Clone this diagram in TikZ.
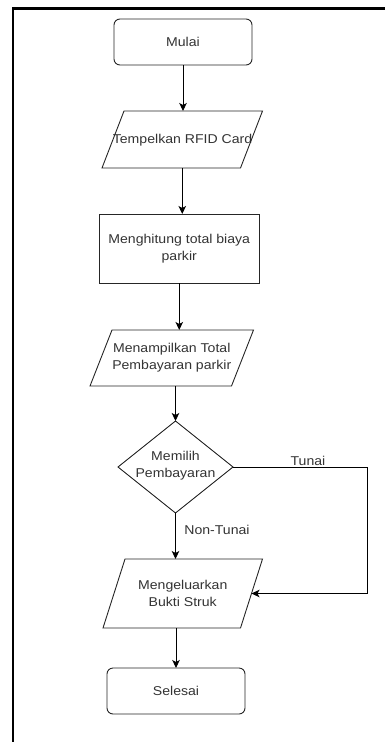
\documentclass[tikz,border=0pt]{standalone}
\usepackage{fontspec}
\setmainfont{Liberation Sans}[FakeStretch=1.1]
\usetikzlibrary{arrows.meta,shapes.geometric}
\definecolor{txt}{HTML}{333333}
\definecolor{edge}{HTML}{262626}
\begin{document}
\begin{tikzpicture}[x=1pt,y=-1pt,
  every node/.style={inner sep=0pt,outer sep=0pt,text=txt,align=center,
    font=\fontsize{12.8}{16.8}\selectfont},
  shapeline/.style={draw=edge,line width=0.9pt},
  terminal/.style={shapeline,rounded corners=6pt,minimum width=138pt,minimum height=46pt},
  process/.style={shapeline,minimum width=159.5pt,minimum height=69pt},
  iobox/.style={minimum width=#1},
  decision/.style={shapeline,diamond,minimum width=115pt,minimum height=92pt,aspect=1.25},
  flow/.style={draw=black,line width=0.9pt,-{Stealth[length=8pt,width=7.5pt,inset=2pt]}},
  lbl/.style={font=\fontsize{12.8}{15}\selectfont}]
\useasboundingbox (0,0) rectangle (385,742);

% frame edges
\draw[line width=2.3pt,black] (13,742) -- (13,8.6) -- (385,8.6);

% nodes
\node[terminal] (start) at (183,42) {Mulai};
\node[iobox=138.5pt,minimum height=57pt] (tap) at (182.25,139.5) {};
\node at (182.5,140) {Tempelkan RFID Card};
\node[process] (calc) at (179.25,248.5) {Menghitung total biaya\\parkir};
\node[iobox=141.5pt,minimum height=56pt] (show) at (171.75,358) {Menampilkan Total\\Pembayaran parkir};
\node[decision] (pay) at (175.5,467) {};
\node at (175.5,466) {Memilih\\Pembayaran};
\node[iobox=137.5pt,minimum height=69pt] (receipt) at (182.75,593.5) {Mengeluarkan\\Bukti Struk};
\node[terminal] (stop) at (176,691) {Selesai};

% parallelogram outlines around the input/output nodes
\foreach \n in {tap,show,receipt}{
  \draw[shapeline] ([xshift=11pt]\n.north west) -- ([xshift=11pt]\n.north east)
    -- ([xshift=-11pt]\n.south east) -- ([xshift=-11pt]\n.south west) -- cycle;
}

% connectors
\draw[flow] (start.south) -- (start.south |- tap.north);
\draw[flow] (tap.south) -- (tap.south |- calc.north);
\draw[flow] (calc.south) -- (calc.south |- show.north);
\draw[flow] (pay.north |- show.south) -- (pay.north);
\draw[flow] (pay.south) -- (pay.south |- receipt.north);
\draw[flow] (receipt.south -| stop.north) -- (stop.north);
\coordinate (bend) at (367,467);
\draw[flow] (pay.east) -- (bend) |- (receipt.east);

% branch labels
\node[lbl] at (308,461) {Tunai};
\node[lbl] at (217,530) {Non-Tunai};
\end{tikzpicture}
\end{document}
